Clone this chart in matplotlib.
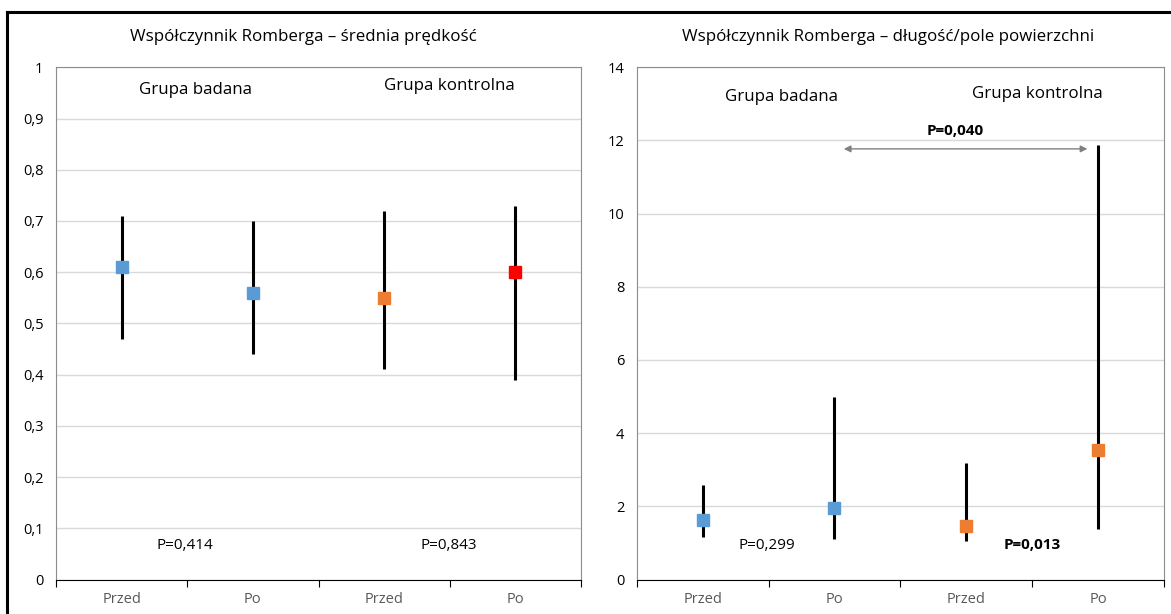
import numpy as np
import matplotlib.pyplot as plt
from matplotlib.lines import Line2D

plt.rcParams['font.family'] = ['Open Sans', 'DejaVu Sans']
plt.rcParams['font.size'] = 10

# dane
labels = ['Przed', 'Po', 'Przed', 'Po']
colors = ['#5B9BD5', '#5B9BD5', '#ED7D31', '#FF0000']

mean_v = [0.61, 0.56, 0.55, 0.60]
low_v = [0.47, 0.44, 0.41, 0.39]
high_v = [0.71, 0.70, 0.72, 0.73]

mean_l = [1.62, 1.95, 1.45, 3.55]
low_l = [1.15, 1.12, 1.05, 1.37]
high_l = [2.57, 5.0, 3.18, 11.88]
colors_l = ['#5B9BD5', '#5B9BD5', '#ED7D31', '#ED7D31']

W, H = 1171, 614
fig = plt.figure(figsize=(W / 100, H / 100), dpi=100)

# ramka (lewa i górna krawędź)
fig.add_artist(Line2D([7 / W, 7 / W], [0, 1 - 12 / H], color='black', lw=2.2, transform=fig.transFigure))
fig.add_artist(Line2D([7 / W, 1], [1 - 12 / H, 1 - 12 / H], color='black', lw=2.2, transform=fig.transFigure))

ax1 = fig.add_axes([56 / W, 1 - 579.5 / H, (581 - 56) / W, (579.5 - 67.3) / H])
ax2 = fig.add_axes([636.7 / W, 1 - 579.5 / H, (1164 - 636.7) / W, (579.5 - 67.3) / H])


def draw(ax, mean, low, high, cols, ymax, ystep, fmt):
    x = np.arange(len(mean)) + 0.5
    for i in range(len(mean)):
        ax.plot([x[i], x[i]], [low[i], high[i]], color='black', lw=2.2, zorder=3, solid_capstyle='butt')
        ax.plot(x[i], mean[i], marker='s', ms=9, color=cols[i], mec=cols[i], zorder=4, ls='none')
    ax.set_xlim(0, 4)
    ax.set_ylim(0, ymax)
    ticks = np.arange(0, ymax + ystep / 2, ystep)
    ax.set_yticks(ticks)
    ax.set_yticklabels([fmt(t) for t in ticks])
    ax.grid(axis='y', color='#D9D9D9', lw=1)
    ax.set_axisbelow(True)
    ax.tick_params(axis='y', length=0, pad=9, labelsize=10.5)
    ax.set_xticks([0, 1, 2, 3, 4])
    ax.set_xticklabels([])
    ax.set_xticks(x, minor=True)
    ax.set_xticklabels(labels, minor=True, color='#595959', fontsize=10.5)
    ax.tick_params(axis='x', which='major', length=5, color='black', direction='out')
    ax.tick_params(axis='x', which='minor', length=0, pad=9)
    for s in ['left', 'top', 'right']:
        ax.spines[s].set_color('#8C8C8C')
    ax.spines['bottom'].set_color('black')


draw(ax1, mean_v, low_v, high_v, colors, 1.0, 0.1, lambda t: ('%g' % round(t, 1)).replace('.', ','))
draw(ax2, mean_l, low_l, high_l, colors_l, 14, 2, lambda t: '%d' % t)

fig.text(303 / W, 1 - 37 / H, 'Współczynnik Romberga – średnia prędkość', ha='center', va='center', fontsize=12.2)
fig.text(888 / W, 1 - 37 / H, 'Współczynnik Romberga – długość/pole powierzchni', ha='center', va='center', fontsize=12.2)

ax1.text(1.06, 0.956, 'Grupa badana', ha='center', va='center', fontsize=12.2)
ax1.text(3.0, 0.964, 'Grupa kontrolna', ha='center', va='center', fontsize=12.2)
ax1.text(0.98, 0.067, 'P=0,414', ha='center', va='center', fontsize=11)
ax1.text(2.99, 0.067, 'P=0,843', ha='center', va='center', fontsize=11)

ax2.text(1.10, 13.2, 'Grupa badana', ha='center', va='center', fontsize=12.2)
ax2.text(3.04, 13.27, 'Grupa kontrolna', ha='center', va='center', fontsize=12.2)
ax2.text(0.99, 0.94, 'P=0,299', ha='center', va='center', fontsize=11)
ax2.text(3.0, 0.94, 'P=0,013', ha='center', va='center', fontsize=11, fontweight='bold')
ax2.text(2.415, 12.25, 'P=0,040', ha='center', va='center', fontsize=11, fontweight='bold')
ax2.annotate('', xy=(3.44, 11.77), xytext=(1.55, 11.77),
             arrowprops=dict(arrowstyle='<|-|>', color='#808080', lw=1, mutation_scale=10))

fig.savefig('out.png', dpi=100)
